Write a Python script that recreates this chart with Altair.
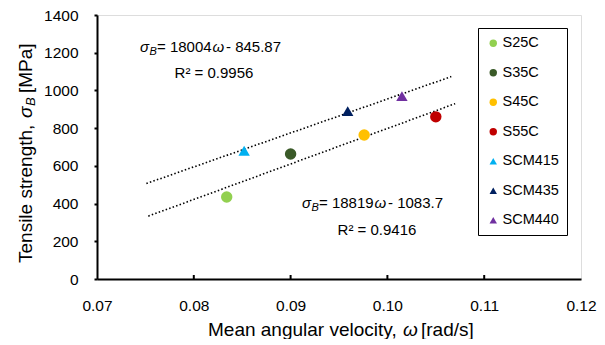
import altair as alt
import pandas as pd

# ---- data ----
steels = ["S25C", "S35C", "S45C", "S55C", "SCM415", "SCM435", "SCM440"]
omega = [0.0834, 0.0900, 0.0976, 0.1050, 0.0852, 0.0959, 0.1015]
strength = [435, 663, 764, 860, 680, 890, 970]
colors = ["#92D050", "#3A5A28", "#FFC000", "#C00000", "#00B0F0", "#002060", "#7030A0"]
shapes = ["circle", "circle", "circle", "circle", "triangle-up", "triangle-up", "triangle-up"]

# trend lines (coefficients from the equations printed on the chart)
trend_names = ["SCM", "S"]
trend_slope = [18004, 18819]
trend_intercept = [-845.87, -1083.7]
trend_x_start = [0.0751, 0.0753]
trend_x_end = [0.1066, 0.1070]

x_ticks = [0.07, 0.08, 0.09, 0.10, 0.11, 0.12]
y_ticks = [0, 200, 400, 600, 800, 1000, 1200, 1400]

FONT = "Liberation Sans"
W, H = 484, 264

pts = pd.DataFrame({"steel": steels, "omega": omega, "strength": strength})

rows = []
for n, s, b, x0, x1 in zip(trend_names, trend_slope, trend_intercept, trend_x_start, trend_x_end):
    for xv in (x0, x1):
        rows.append({"grp": n, "omega": xv, "strength": s * xv + b})
trend = pd.DataFrame(rows)

xscale = alt.Scale(domain=[0.07, 0.12], nice=False, zero=False)
yscale = alt.Scale(domain=[0, 1400], nice=False, zero=True)

xaxis = alt.Axis(values=x_ticks, format=".2f", title=None, ticks=False,
                 labelPadding=19, labelFontSize=15.5, labelFont=FONT,
                 labelColor="black", domainColor="black", domainWidth=2,
                 labelOverlap=False, labelFlush=False, grid=False)
yaxis = alt.Axis(values=y_ticks, format="d", title=None, tickSize=3,
                 tickColor="black", tickWidth=2, labelPadding=16,
                 labelFontSize=15.5, labelFont=FONT, labelColor="black",
                 domainColor="black", domainWidth=2, labelOverlap=False,
                 labelFlush=False, grid=False)

points = alt.Chart(pts).mark_point(filled=True, opacity=1, size=130).encode(
    x=alt.X("omega:Q", scale=xscale, axis=xaxis),
    y=alt.Y("strength:Q", scale=yscale, axis=yaxis),
    color=alt.Color("steel:N", scale=alt.Scale(domain=steels, range=colors),
                    legend=alt.Legend(title=None, orient="none", legendX=381, legendY=13,
                                      strokeColor="black", fillColor="white",
                                      padding=8, labelFont=FONT, labelFontSize=14.5,
                                      labelColor="black", symbolSize=55, labelOffset=2,
                                      rowPadding=14.5, symbolStrokeWidth=0)),
    shape=alt.Shape("steel:N", scale=alt.Scale(domain=steels, range=shapes), legend=None),
)

lines = alt.Chart(trend).mark_line(color="black", strokeDash=[1.5, 2.2], strokeWidth=1.6).encode(
    x=alt.X("omega:Q", scale=xscale, axis=xaxis),
    y=alt.Y("strength:Q", scale=yscale, axis=yaxis),
    detail="grp:N",
)

tick_df = pd.DataFrame({"omega": x_ticks[1:-1]})
xticks = alt.Chart(tick_df).mark_rule(color="black", strokeWidth=2).encode(
    x=alt.X("omega:Q", scale=xscale, axis=xaxis),
    y=alt.value(H),
    y2=alt.value(H - 4),
)

one = pd.DataFrame({"a": [0]})


def txt(s, x, y, size=15, italic=False, align="left", angle=0):
    kw = dict(text=s, align=align, baseline="alphabetic", font=FONT, fontSize=size,
              color="black")
    if italic:
        kw["fontStyle"] = "italic"
    if angle:
        kw["angle"] = angle
    return alt.Chart(one).mark_text(**kw).encode(x=alt.value(x), y=alt.value(y))


def equation(x0, base, num, tail):
    return [
        txt("σ", x0, base, 15, italic=True),
        txt("B", x0 + 9.5, base + 3, 11, italic=True),
        txt("= " + num, x0 + 17, base, 15),
        txt("ω", x0 + 72.5, base, 15, italic=True),
        txt("- " + tail, x0 + 86, base, 15),
    ]


annots = []
annots += equation(43, 37, "18004", "845.87")
annots.append(txt("R² = 0.9956", 117, 63, 15, align="center"))
annots += equation(205, 193, "18819", "1083.7")
annots.append(txt("R² = 0.9416", 280, 220, 15, align="center"))

# axis titles
titles = [
    txt("Mean angular velocity,", 111, 321, 19),
    txt("ω", 306, 321, 19, italic=True),
    txt("[rad/s]", 324, 321, 19),
    txt("Tensile strength,", -65, 248, 19, angle=270),
    txt("σ", -65, 103, 19, italic=True, angle=270),
    txt("B", -62, 91, 13, italic=True, angle=270),
    txt("[MPa]", -65, 78, 19, angle=270),
]

chart = alt.layer(lines, xticks, points, *annots, *titles).properties(
    width=W, height=H,
    autosize=alt.AutoSizeParams(type="none"),
    padding={"left": 89, "top": 7, "right": 16, "bottom": 60},
).configure_view(stroke="black", strokeWidth=2).configure_legend(
    strokeWidth=1.5
).configure(background="white")

chart.save("out.html", embed_options={"renderer": "svg", "actions": False})
